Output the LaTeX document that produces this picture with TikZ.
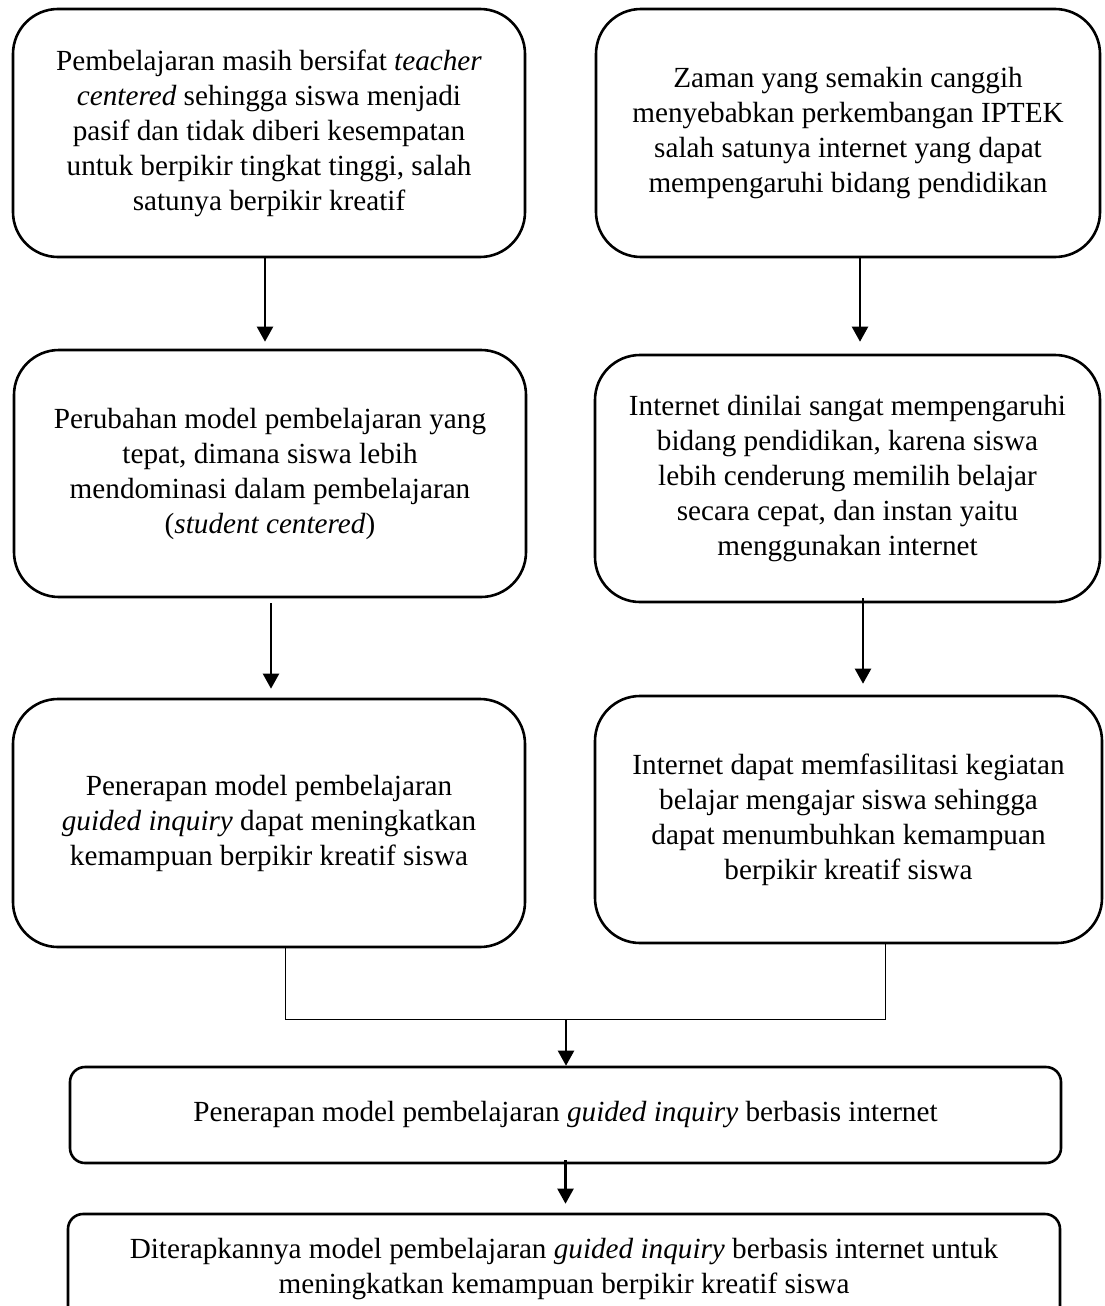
\documentclass[tikz,border=0pt]{standalone}
\usepackage{fontspec}
\setmainfont{Liberation Serif}
\usepackage{tikz}
\usetikzlibrary{arrows.meta}
\tikzset{bigbox/.style={draw,line width=2.6pt,rounded corners=45pt,align=center,inner sep=0pt},
         widebox/.style={draw,line width=2.6pt,rounded corners=15pt,align=center,inner sep=0pt,
                         minimum width=991pt,minimum height=96pt},
         arr/.style={line width=2.2pt,-{Triangle[length=15pt,width=16pt]}},
         joinline/.style={line width=1pt}
         }

\begin{document}
\begin{tikzpicture}[x=1pt,y=-1pt,font=\fontsize{29.2}{35}\selectfont]
  \useasboundingbox (0,0) rectangle (1104,1306);

  % left column
  \node[bigbox,minimum width=512pt,minimum height=248pt] (A) at (269,133)
    {Pembelajaran masih bersifat \textit{teacher}\\ \textit{centered} sehingga siswa menjadi\\
     pasif dan tidak diberi kesempatan\\ untuk berpikir tingkat tinggi, salah\\ satunya berpikir kreatif};
  \node[bigbox,minimum width=512pt,minimum height=247pt] (C) at (270,473.5)
    {Perubahan model pembelajaran yang\\ tepat, dimana siswa lebih\\
     mendominasi dalam pembelajaran\\ (\textit{student centered})};
  \node[bigbox,minimum width=512pt,minimum height=248pt] (E) at (269,823)
    {Penerapan model pembelajaran\\ \textit{guided inquiry} dapat meningkatkan\\
     kemampuan berpikir kreatif siswa};

  % right column
  \node[bigbox,minimum width=504pt,minimum height=248pt] (B) at (848,133)
    {Zaman yang semakin canggih\\ menyebabkan perkembangan IPTEK\\
     salah satunya internet yang dapat\\ mempengaruhi bidang pendidikan};
  \node[bigbox,minimum width=505pt,minimum height=247pt] (D) at (847.5,478.5)
    {Internet dinilai sangat mempengaruhi\\ bidang pendidikan, karena siswa\\
     lebih cenderung memilih belajar\\ secara cepat, dan instan yaitu\\ menggunakan internet};
  \node[bigbox,minimum width=507pt,minimum height=247pt] (F) at (848.5,819.5)
    {Internet dapat memfasilitasi kegiatan\\ belajar mengajar siswa sehingga\\
     dapat menumbuhkan kemampuan\\ berpikir kreatif siswa};

  % bottom
  \node[widebox] (G) at (565.5,1115)
    {Penerapan model pembelajaran \textit{guided inquiry} berbasis internet};
  \node[widebox,minimum width=992pt,minimum height=110pt] (H) at (564,1269)
    {Diterapkannya model pembelajaran \textit{guided inquiry} berbasis internet untuk\\
     meningkatkan kemampuan berpikir kreatif siswa};

  \draw[arr,shorten >=7pt] ([xshift=-4pt]A.south) -- ([xshift=-4pt]A.south |- C.north);
  \draw[arr,shorten >=12pt] ([xshift=12pt]B.south) -- ([xshift=12pt]B.south |- D.north);
  \draw[arr,shorten <=5pt,shorten >=9pt] ([xshift=1pt]C.south) -- ([xshift=1pt]C.south |- E.north);
  \draw[arr,shorten <=-5pt,shorten >=11pt] ([xshift=15.5pt]D.south) -- ([xshift=15.5pt]D.south |- F.north);

  \coordinate (m) at (566,1019);
  \draw[joinline] ([xshift=16pt]E.south) |- (m) -| ([xshift=36.5pt]F.south);
  \draw[arr] (m) -- (m |- G.north);
  \draw[arr,shorten <=-4pt,shorten >=9pt] (G.south) -- (G.south |- H.north);
\end{tikzpicture}
\end{document}
